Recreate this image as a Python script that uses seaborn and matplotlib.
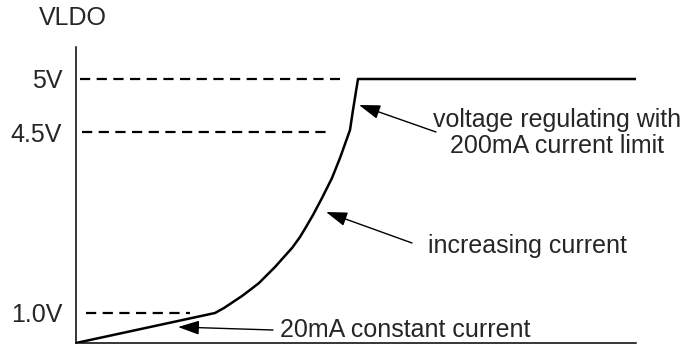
import matplotlib
matplotlib.use("Agg")
import matplotlib.pyplot as plt
import seaborn as sns
import pandas as pd

# schematic units (not to scale volts)
time = [0, 139, 148, 157, 166, 174, 183, 191, 199, 207, 216, 224, 230, 237, 246, 256, 264, 274, 277, 282, 560]
vldo = [0, 30, 35, 41, 47, 53, 60, 68, 76, 85, 95, 106, 116, 128, 145, 165, 185, 213, 233, 264, 264]

level_pos = [264, 211, 30]
level_labels = ["5V", "4.5V", "1.0V"]
level_start = [4, 6, 10]
level_end = [264, 252, 114]

notes = ["voltage regulating with\n200mA current limit", "increasing current", "20mA constant current"]
note_xy = [(481, 210), (451, 97), (204, 13)]
arrow_tail = [(360, 211), (336, 100), (197, 13)]
arrow_head = [(283, 238), (250, 131), (102, 16)]

sns.set_theme(style="white")
plt.rcParams['font.family'] = ['Liberation Sans', 'DejaVu Sans']

fig = plt.figure(figsize=(6.87, 3.45), dpi=100)
ax = fig.add_axes([76 / 687, 2 / 345, 560 / 687, 296 / 345])

df = pd.DataFrame({"time": time, "vldo": vldo})
sns.lineplot(data=df, x="time", y="vldo", ax=ax, color="black", lw=1.8,
             sort=False, estimator=None, solid_joinstyle="round")

for y, x0, x1 in zip(level_pos, level_start, level_end):
    ax.plot([x0, x1], [y, y], color="black", lw=1.6, linestyle=(0, (4.6, 2.9)))

ax.set_xlim(0, 560)
ax.set_ylim(0, 296)
ax.set_xticks([])
ax.set_yticks(level_pos)
ax.set_yticklabels(level_labels, fontsize=18)
ax.tick_params(axis="y", length=0, pad=10)
ax.set_xlabel("")
ax.set_ylabel("")
for side in ["top", "right"]:
    ax.spines[side].set_visible(False)
for side in ["left", "bottom"]:
    ax.spines[side].set_color("black")
    ax.spines[side].set_linewidth(1.1)

ax.text(-3, 325, "VLDO", fontsize=18, ha="center", va="center", clip_on=False)

for txt, (tx, ty) in zip(notes, note_xy):
    ha = "left" if txt.startswith("20mA") else "center"
    ax.text(tx, ty, txt, fontsize=18, ha=ha, va="center", multialignment="center",
            linespacing=1.15, clip_on=False)

for tail, head in zip(arrow_tail, arrow_head):
    ax.annotate("", xy=head, xytext=tail,
                arrowprops=dict(arrowstyle="-|>,head_length=1.08,head_width=0.36",
                                mutation_scale=12, color="black", lw=1.0,
                                shrinkA=0, shrinkB=0))

fig.savefig("out.png", dpi=100)
